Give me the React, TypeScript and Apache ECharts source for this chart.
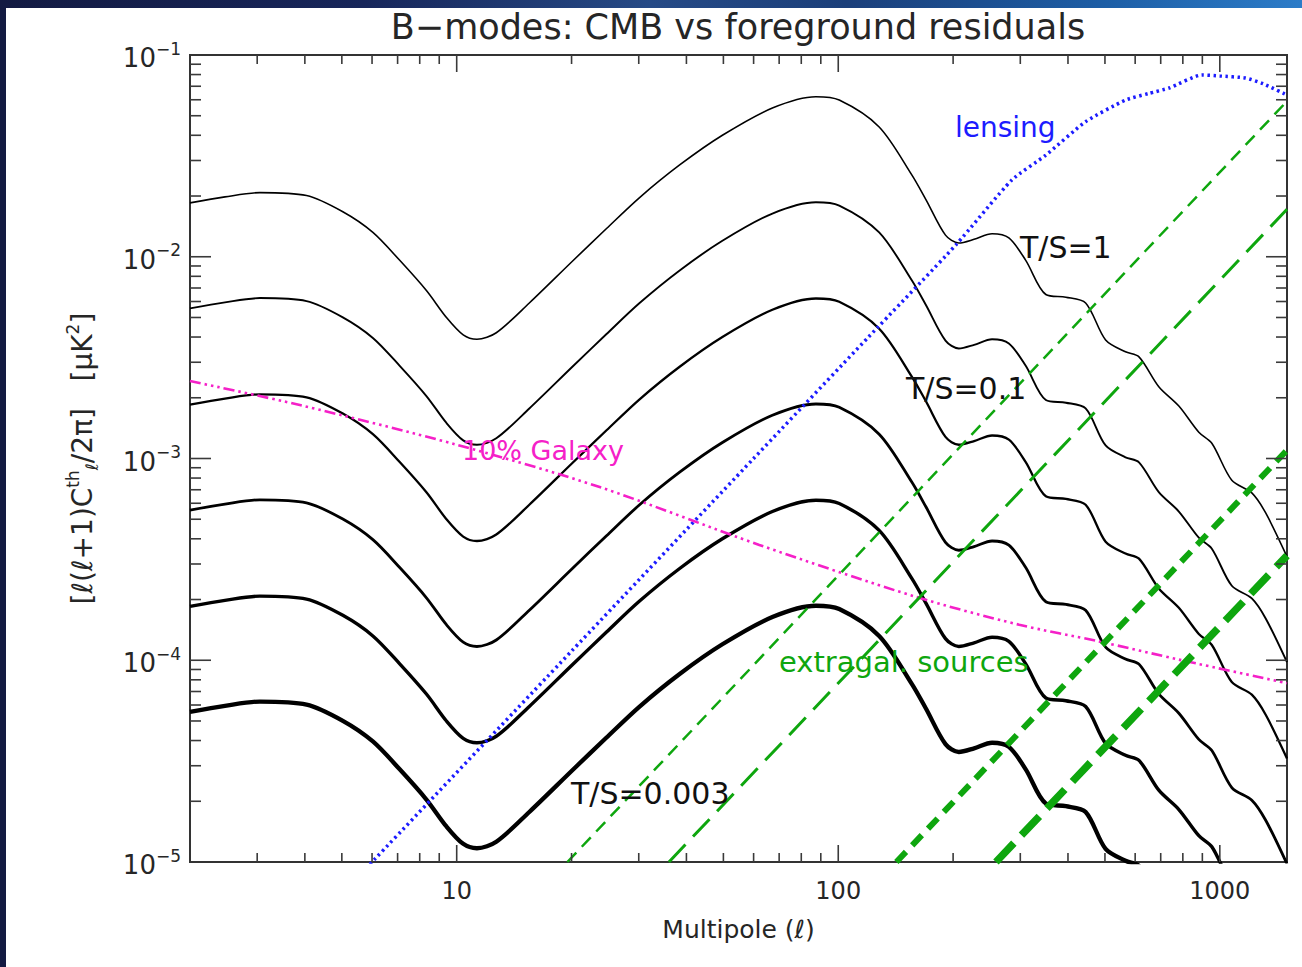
import React, { useEffect, useRef } from 'react';
import * as echarts from 'echarts';

// ---- Data ----
// Tensor B-mode spectrum l(l+1)C_l/2pi [uK^2] for T/S = 1
const tensorMultipoles = [
  2.0, 2.47, 3.05, 4.04, 5.03, 6.03, 7.09, 8.33, 9.4, 10.4, 11.3, 12.7, 15.5, 20.1, 24.7,
  30.1, 38.4, 49.7, 67.2, 87.4, 100.6, 128, 156, 170, 191, 207, 227, 253, 280, 310, 350,
  395, 445, 502, 566, 614, 692, 781, 881, 953, 1075, 1213, 1319, 1500,
];
const tensorPowerTS1 = [
  1.85e-2, 1.98e-2, 2.08e-2, 2.01e-2, 1.67e-2, 1.32e-2, 9.6e-3, 6.8e-3, 5.0e-3, 4.1e-3,
  3.9e-3, 4.2e-3, 5.9e-3, 9.5e-3, 1.38e-2, 1.96e-2, 2.85e-2, 4.0e-2, 5.46e-2, 6.21e-2,
  5.98e-2, 4.4e-2, 2.54e-2, 1.91e-2, 1.28e-2, 1.17e-2, 1.22e-2, 1.3e-2, 1.24e-2, 9.6e-3,
  6.5e-3, 6.3e-3, 5.9e-3, 3.87e-3, 3.38e-3, 3.19e-3, 2.27e-3, 1.82e-3, 1.35e-3, 1.19e-3,
  7.8e-4, 6.75e-4, 5.37e-4, 3.26e-4,
];
// Tensor-to-scalar ratios plotted
const tensorToScalar = [1, 0.3, 0.1, 0.03, 0.01, 0.003];

// Lensing B-modes
const lensingMultipoles = [5.5, 20, 60, 120, 203, 285, 350, 445, 566, 650, 736, 898, 1000, 1168, 1300, 1500];
const lensingPower = [
  8.4e-6, 1.11e-4, 1.0e-3, 4.0e-3, 1.14e-2, 2.4e-2, 3.19e-2, 4.67e-2, 5.98e-2, 6.44e-2,
  6.86e-2, 7.96e-2, 7.87e-2, 7.69e-2, 7.2e-2, 6.33e-2,
];

// 10% Galaxy residual
const galaxyMultipoles = [2, 3.88, 10, 23.7, 62.1, 160, 298, 482, 795, 1500];
const galaxyPower = [2.42e-3, 1.84e-3, 1.17e-3, 7.22e-4, 3.73e-4, 2.06e-4, 1.5e-4, 1.24e-4, 1.0e-4, 7.7e-5];

// Extragalactic source residuals (straight lines in log-log): start on the floor, end at l = 1500
const sourceStartMultipoles = [19.5, 36, 142, 259];
const sourceStartPower = [1e-5, 1e-5, 1e-5, 1e-5];
const sourceEndMultipoles = [1500, 1500, 1500, 1500];
const sourceEndPower = [0.059, 0.0172, 1.1e-3, 3.3e-4];

// Axis ranges and ticks
const L_MIN = 2;
const L_MAX = 1500;
const P_MIN = 1e-5;
const P_MAX = 1e-1;
const xTickValues = [
  3, 4, 5, 6, 7, 8, 9, 10, 20, 30, 40, 50, 60, 70, 80, 90,
  100, 200, 300, 400, 500, 600, 700, 800, 900, 1000,
];
const yDecades = [1e-5, 1e-4, 1e-3, 1e-2];
const yMinorSteps = [2, 3, 4, 5, 6, 7, 8, 9];
const yTickValues = yDecades.flatMap((d, i) => [
  ...(i > 0 ? [d] : []),
  ...yMinorSteps.map((m) => m * d),
]);

// ---- Styles ----
const FONT = '"DejaVu Sans", "Liberation Sans", sans-serif';
const TEXT = '#262626';
const tensorWidths = [1.6, 1.9, 2.3, 2.8, 3.4, 4.3];
const sourceWidths = [2.5, 3, 6, 7.5];
const sourceDashes = [[13, 8], [24, 11], [14, 9], [26, 11]];
const GREEN = '#0ea60e';
const BLUE = '#1c1cff';
const MAGENTA = '#f520c8';

const isDecade = (v: number) => {
  const l = Math.log10(v);
  return Math.abs(l - Math.round(l)) < 1e-6;
};

function buildOption() {
  const tensorSeries = tensorToScalar.map((r, i) => ({
    type: 'line',
    name: `T/S=${r}`,
    data: tensorMultipoles.map((l, k) => [l, tensorPowerTS1[k] * r]),
    showSymbol: false,
    smooth: 0.3,
    lineStyle: { color: '#000', width: tensorWidths[i] },
    z: 3,
  }));

  const lensingSeries = {
    type: 'line',
    name: 'lensing',
    data: lensingMultipoles.map((l, k) => [l, lensingPower[k]]),
    showSymbol: false,
    smooth: 0.2,
    lineStyle: { color: BLUE, width: 3.5, type: [2.5, 3.5], cap: 'butt' },
    z: 4,
  };

  const galaxySeries = {
    type: 'line',
    name: '10% Galaxy',
    data: galaxyMultipoles.map((l, k) => [l, galaxyPower[k]]),
    showSymbol: false,
    smooth: 0.3,
    lineStyle: { color: MAGENTA, width: 2.6, type: [11, 4, 2.5, 4, 2.5, 4, 2.5, 4], cap: 'butt' },
    z: 4,
  };

  const sourceSeries = sourceStartMultipoles.map((l0, i) => ({
    type: 'line',
    name: `sources ${i + 1}`,
    data: [
      [l0, sourceStartPower[i]],
      [sourceEndMultipoles[i], sourceEndPower[i]],
    ],
    showSymbol: false,
    lineStyle: { color: GREEN, width: sourceWidths[i], type: sourceDashes[i], cap: 'butt' },
    z: 5,
  }));

  const tickStyle = { stroke: '#3a3a3a', lineWidth: 1.6 };

  const xTickSeries = {
    type: 'custom',
    name: 'x ticks',
    coordinateSystem: 'cartesian2d',
    silent: true,
    clip: false,
    z: 6,
    encode: { x: 0, y: 1 },
    data: xTickValues.map((v) => [v, P_MIN]),
    renderItem: (_p: any, api: any) => {
      const v = api.value(0);
      const len = isDecade(v) ? 17 : 9;
      const b = api.coord([v, P_MIN]);
      const t = api.coord([v, P_MAX]);
      return {
        type: 'group',
        children: [
          { type: 'line', shape: { x1: b[0], y1: b[1], x2: b[0], y2: b[1] - len }, style: tickStyle },
          { type: 'line', shape: { x1: t[0], y1: t[1], x2: t[0], y2: t[1] + len }, style: tickStyle },
        ],
      };
    },
  };

  const yTickSeries = {
    type: 'custom',
    name: 'y ticks',
    coordinateSystem: 'cartesian2d',
    silent: true,
    clip: false,
    z: 6,
    encode: { x: 0, y: 1 },
    data: yTickValues.map((v) => [L_MIN, v]),
    renderItem: (_p: any, api: any) => {
      const v = api.value(1);
      const len = isDecade(v) ? 21 : 11;
      const a = api.coord([L_MIN, v]);
      const b = api.coord([L_MAX, v]);
      return {
        type: 'group',
        children: [
          { type: 'line', shape: { x1: a[0], y1: a[1], x2: a[0] + len, y2: a[1] }, style: tickStyle },
          { type: 'line', shape: { x1: b[0], y1: b[1], x2: b[0] - len, y2: b[1] }, style: tickStyle },
        ],
      };
    },
  };

  const label = (text: string, x: number, y: number, color: string, size: number) => ({
    type: 'text',
    x,
    y,
    silent: true,
    z: 20,
    style: {
      text,
      fill: color,
      fontSize: size,
      fontFamily: FONT,
      align: 'left',
      verticalAlign: 'middle',
      textAlign: 'left',
      textVerticalAlign: 'middle',
    },
  });

  return {
    animation: false,
    backgroundColor: 'transparent',
    grid: {
      left: 190,
      top: 55,
      width: 1097,
      height: 807,
      show: true,
      borderColor: '#333',
      borderWidth: 2,
      backgroundColor: 'transparent',
      outerBoundsMode: 'none',
      containLabel: false,
    },
    xAxis: {
      type: 'log',
      logBase: 10,
      min: L_MIN,
      max: L_MAX,
      axisLine: { show: false },
      axisTick: { show: false },
      splitLine: { show: false },
      minorTick: { show: false },
      axisLabel: {
        showMinLabel: false,
        showMaxLabel: false,
        margin: 17,
        fontSize: 24,
        fontFamily: FONT,
        color: TEXT,
        formatter: (v: number) => String(Math.round(v)),
      },
      name: 'Multipole (ℓ)',
      nameLocation: 'middle',
      nameGap: 55,
      nameTextStyle: { fontSize: 25, fontFamily: FONT, color: TEXT },
    },
    yAxis: {
      type: 'log',
      logBase: 10,
      min: P_MIN,
      max: P_MAX,
      axisLine: { show: false },
      axisTick: { show: false },
      splitLine: { show: false },
      minorTick: { show: false },
      axisLabel: {
        margin: 9,
        fontFamily: FONT,
        color: TEXT,
        formatter: (v: number) => `{b|10}{s|−${Math.abs(Math.round(Math.log10(v)))}}`,
        rich: {
          b: { fontSize: 26, fontFamily: FONT, color: TEXT, lineHeight: 30, padding: [6, 0, 0, 0] },
          s: { fontSize: 17, fontFamily: FONT, color: TEXT, lineHeight: 18, verticalAlign: 'top' },
        },
      },
      name: '{n|[ℓ(ℓ+1)C}{sup|th}{sub|ℓ}{n|/2π]   [μK}{sup|2}{n|]}',
      nameLocation: 'middle',
      nameRotate: 90,
      nameGap: 90,
      nameTextStyle: {
        fontFamily: FONT,
        color: TEXT,
        rich: {
          n: { fontSize: 28, fontFamily: FONT, color: TEXT, lineHeight: 36 },
          sup: { fontSize: 17, fontFamily: FONT, color: TEXT, lineHeight: 18, verticalAlign: 'top' },
          sub: { fontSize: 17, fontFamily: FONT, color: TEXT, lineHeight: 18, verticalAlign: 'bottom' },
        },
      },
    },
    graphic: [
      {
        type: 'text',
        x: 738,
        y: 27,
        silent: true,
        style: {
          text: 'B−modes: CMB vs foreground residuals',
          fill: TEXT,
          fontSize: 35,
          fontFamily: FONT,
          align: 'center',
          verticalAlign: 'middle',
          textAlign: 'center',
          textVerticalAlign: 'middle',
        },
      },
      label('lensing', 955, 127, BLUE, 28),
      label('T/S=1', 1020, 247, '#111', 30),
      label('T/S=0.1', 906, 388, '#111', 30),
      label('T/S=0.003', 571, 793, '#111', 30),
      label('10% Galaxy', 462, 450, MAGENTA, 27),
      label('extragal. sources', 779, 662, GREEN, 29),
    ],
    series: [...tensorSeries, lensingSeries, galaxySeries, ...sourceSeries, xTickSeries, yTickSeries],
  };
}

export default function App() {
  const ref = useRef<HTMLDivElement>(null);
  useEffect(() => {
    if (!ref.current) return;
    const chart = echarts.init(ref.current, null, { renderer: 'svg' });
    chart.setOption(buildOption() as any);
    return () => chart.dispose();
  }, []);
  return (
    <div
      style={{
        position: 'fixed',
        left: 0,
        top: 0,
        width: 1302,
        height: 967,
        background: '#131a42',
        overflow: 'hidden',
      }}
    >
      <div
        style={{
          position: 'absolute',
          left: 0,
          top: 0,
          width: 1302,
          height: 8,
          background:
            'linear-gradient(90deg, #131a42 0%, #17265a 28%, #264a86 50%, #1b3f7a 65%, #1d5ea6 85%, #2c7cc8 100%)',
        }}
      />
      <div style={{ position: 'absolute', left: 6, top: 8, right: 0, bottom: 0, background: '#ffffff' }} />
      <div ref={ref} style={{ position: 'absolute', left: 0, top: 0, width: 1302, height: 967 }} />
    </div>
  );
}
